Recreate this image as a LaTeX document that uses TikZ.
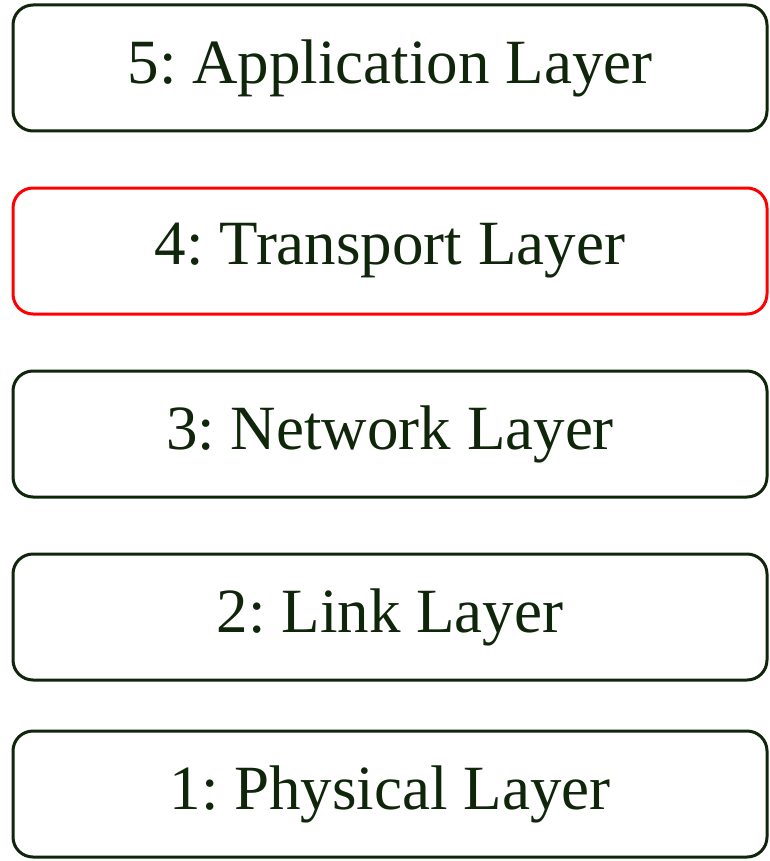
\documentclass[tikz,border=0pt]{standalone}
\usepackage{fontspec}
\setmainfont{Liberation Serif}
\usepackage{tikz}
\usetikzlibrary{positioning}
\definecolor{layerink}{HTML}{0F260A}
\definecolor{hilitered}{HTML}{FF0000}
\frenchspacing
\tikzset{
  layerbox/.style={draw=layerink, line width=3pt, rounded corners=20pt,
                   minimum width=754pt, minimum height=126pt, inner sep=0pt,
                   text=layerink, font=\fontsize{63}{70}\selectfont},
  hilitebox/.style={layerbox, draw=hilitered},
}

\begin{document}
\begin{tikzpicture}[node distance=54pt]
  \useasboundingbox (0,0) rectangle (769pt,-861pt);

  %% Layer stack, top to bottom
  \node[layerbox] (app) at (390pt,-68pt) {5: Application Layer};
  \node[hilitebox, below=of app] (trans) {4: Transport Layer};
  \node[layerbox,  below=of trans] (net) {3: Network Layer};
  \node[layerbox,  below=of net] (link) {2: Link Layer};
  \node[layerbox,  below=48pt of link] (phys) {1: Physical Layer};

\end{tikzpicture}
\end{document}
